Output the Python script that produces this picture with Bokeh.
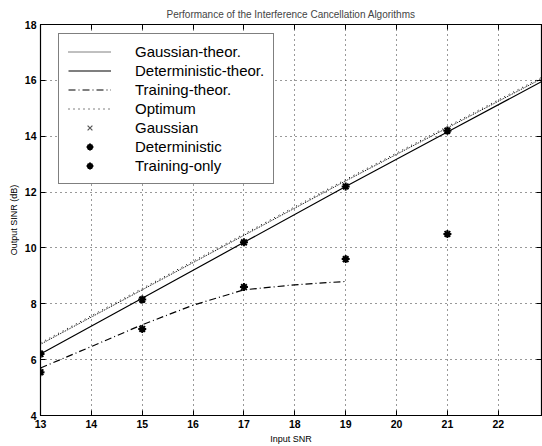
from bokeh.plotting import figure
from bokeh.models import Range1d, LinearAxis, Legend, LegendItem, FixedTicker, CustomJSTickFormatter
from bokeh.embed import file_html
from bokeh.resources import INLINE

# ---- data ----
x_pts = [13, 15, 17, 19, 21, 23]
gaussian_theor = [6.55, 8.5, 10.45, 12.4, 14.3, 16.2]
deterministic_theor = [6.2, 8.2, 10.2, 12.2, 14.15, 16.1]
optimum = [6.6, 8.55, 10.5, 12.45, 14.35, 16.25]
train_x = [13, 14, 15, 16, 17, 18, 19]
training_theor = [5.7, 6.47, 7.25, 7.95, 8.5, 8.68, 8.8]
gaussian_pts = [6.25, 8.2, 10.2, 12.2, 14.15, 16.1]
deterministic_pts = [6.2, 8.15, 10.2, 12.2, 14.2, 16.1]
training_pts = [5.55, 7.1, 8.6, 9.6, 10.5, 11.25]
x_ticks = [13, 14, 15, 16, 17, 18, 19, 20, 21, 22]
y_ticks = [4, 6, 8, 10, 12, 14, 16, 18]

FONT = "Liberation Sans"

p = figure(width=542, height=446, output_backend="svg", toolbar_location=None,
           x_range=Range1d(13, 22.85), y_range=Range1d(4, 18),
           title="Performance of the Interference Cancellation Algorithms",
           min_border_left=40, min_border_right=1, min_border_top=24, min_border_bottom=4)

p.background_fill_color = "white"
p.border_fill_color = "white"
p.outline_line_color = "black"
p.outline_line_width = 1.2

p.title.align = "center"
p.title.text_font = FONT
p.title.text_font_size = "10px"
p.title.text_font_style = "normal"
p.title.standoff = 9
p.title.offset = -22

for ax in (p.xaxis[0], p.yaxis[0]):
    ax.major_label_text_font = FONT
    ax.major_label_text_font_size = "10.5px"
    ax.major_label_text_font_style = "bold"
    ax.major_label_text_color = "black"
    ax.axis_label_text_font = FONT
    ax.axis_label_text_font_size = "9px"
    ax.axis_label_text_font_style = "normal"
    ax.axis_label_text_color = "black"
    ax.major_tick_in = 5
    ax.major_tick_out = 0
    ax.minor_tick_line_color = None
    ax.axis_line_color = "black"
    ax.major_tick_line_color = "black"
    ax.major_label_standoff = 4
    ax.axis_label_standoff = 3

p.xaxis[0].ticker = FixedTicker(ticks=x_ticks)
p.yaxis[0].ticker = FixedTicker(ticks=y_ticks)
p.xaxis[0].axis_label = "Input SNR"
p.yaxis[0].axis_label = "Output SINR (dB)"

# box ticks on top and right (no labels)
blank = CustomJSTickFormatter(code="return '';")
top = LinearAxis(ticker=FixedTicker(ticks=x_ticks), formatter=blank,
                 major_label_standoff=0, major_tick_in=5, major_tick_out=0,
                 minor_tick_line_color=None, axis_line_color="black",
                 major_tick_line_color="black", major_tick_line_width=1)
right = LinearAxis(ticker=FixedTicker(ticks=y_ticks), formatter=blank,
                   major_label_standoff=0, major_tick_in=5, major_tick_out=0,
                   minor_tick_line_color=None, axis_line_color="black",
                   major_tick_line_color="black", major_tick_line_width=1)
p.add_layout(top, "above")
p.add_layout(right, "right")

p.xgrid.ticker = FixedTicker(ticks=x_ticks)
p.ygrid.ticker = FixedTicker(ticks=y_ticks)
for g in (p.xgrid[0], p.ygrid[0]):
    g.grid_line_color = "black"
    g.grid_line_alpha = 0.8
    g.grid_line_dash = "1 4"
    g.grid_line_width = 1

r1 = p.line(x_pts, gaussian_theor, line_color="black", line_dash="1 1", line_width=1)
r2 = p.line(x_pts, deterministic_theor, line_color="black", line_width=1.2)
r3 = p.line(train_x, training_theor, line_color="black", line_dash="7 3 1 3", line_width=1.2)
r4 = p.line(x_pts, optimum, line_color="black", line_dash="1 4", line_width=1)
r5 = p.scatter(x_pts, gaussian_pts, marker="x", size=6, line_color="#555555", line_width=1.2)
r6 = p.scatter(x_pts, deterministic_pts, marker="asterisk", size=8, line_color="black", line_width=2)
r7 = p.scatter(x_pts, training_pts, marker="asterisk", size=8, line_color="black", line_width=2)

legend = Legend(items=[
    LegendItem(label="Gaussian-theor.", renderers=[r1]),
    LegendItem(label="Deterministic-theor.", renderers=[r2]),
    LegendItem(label="Training-theor.", renderers=[r3]),
    LegendItem(label="Optimum", renderers=[r4]),
    LegendItem(label="Gaussian", renderers=[r5]),
    LegendItem(label="Deterministic", renderers=[r6]),
    LegendItem(label="Training-only", renderers=[r7]),
], location=(18, 231), margin=0)
legend.label_text_font = FONT
legend.label_text_font_size = "15px"
legend.label_text_color = "black"
legend.label_height = 17
legend.glyph_height = 17
legend.glyph_width = 43
legend.label_standoff = 24
legend.spacing = 2
legend.padding = 9
legend.border_line_color = "black"
legend.border_line_width = 1.2
legend.background_fill_color = "white"
legend.background_fill_alpha = 1
p.add_layout(legend, "center")

open("out.html", "w").write(file_html(p, INLINE))
